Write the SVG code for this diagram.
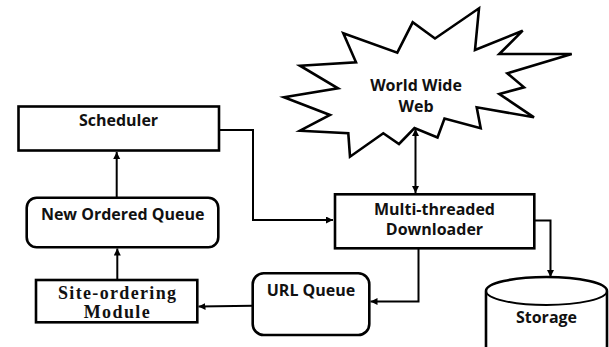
<svg xmlns="http://www.w3.org/2000/svg" width="609" height="347" viewBox="0 0 609 347">
  <style>
    .box { fill: #ffffff; stroke: #000000; stroke-width: 2.6; }
    .lbl { font-family: "Open Sans", "Liberation Sans", sans-serif; font-weight: 700; font-size: 16px; fill: #111111; text-anchor: middle; }
    .serif { font-family: "Liberation Serif", "Times New Roman", serif; font-weight: 700; font-size: 18px; fill: #111111; text-anchor: middle; }
    .wire { fill: none; stroke: #000000; stroke-width: 2; }
  </style>
  <defs>
    <marker id="arrow" markerUnits="userSpaceOnUse" markerWidth="8" markerHeight="8" refX="7" refY="3.5" orient="auto">
      <path d="M0,0 L7,3.5 L0,7 Z" fill="#000000"/>
    </marker>
    <marker id="arrowStart" markerUnits="userSpaceOnUse" markerWidth="8" markerHeight="8" refX="0" refY="3.5" orient="auto">
      <path d="M7,0 L0,3.5 L7,7 Z" fill="#000000"/>
    </marker>
  </defs>
  <rect width="609" height="347" fill="#ffffff"/>

  <g id="connectors">
    <path class="wire" d="M219,130 H253 V220 H333" marker-end="url(#arrow)"/>
    <path class="wire" d="M415.5,129 V193" marker-start="url(#arrowStart)" marker-end="url(#arrow)"/>
    <path class="wire" d="M534.5,220.5 H550.5 V277" marker-end="url(#arrow)"/>
    <path class="wire" d="M418.5,248 V301.5 H370.5" marker-end="url(#arrow)"/>
    <path class="wire" d="M253,305.7 L198.5,306.5" marker-end="url(#arrow)"/>
    <path class="wire" d="M117.3,280 V248.5" marker-end="url(#arrow)"/>
    <path class="wire" d="M116.7,197.7 V152" marker-end="url(#arrow)"/>
  </g>

  <g id="www">
    <polygon class="box" points="284,97.3 338,88.3 300,65.7 356,62.3 343.3,33.3 397.3,52.7 412.7,22.3 435,38.5 479,8.3 475,50 522.7,30.7 499.3,54 571.7,54 507.3,73.3 524,87.3 499.3,94 534,117.3 476.7,107.3 480.7,128.3 444.5,118.5 437.5,137.5 414.5,128 399,144 383.3,133.3 350,156.7 348.3,133.3 300,130.7 330,115"/>
    <text class="lbl" x="416" y="91">World Wide</text>
    <text class="lbl" x="416" y="112">Web</text>
  </g>

  <g id="scheduler">
    <rect class="box" x="18.5" y="106.5" width="200.5" height="44"/>
    <text class="lbl" x="118.5" y="126">Scheduler</text>
  </g>

  <g id="new-ordered-queue">
    <rect class="box" x="26.7" y="197.7" width="191.6" height="49.6" rx="10"/>
    <text class="lbl" x="122.7" y="220">New Ordered Queue</text>
  </g>

  <g id="site-ordering-module">
    <rect class="box" x="36" y="280" width="161.3" height="42.3"/>
    <text class="serif" x="117" y="299" textLength="118" lengthAdjust="spacing">Site-ordering</text>
    <text class="serif" x="116.7" y="318" textLength="66" lengthAdjust="spacing">Module</text>
  </g>

  <g id="url-queue">
    <rect class="box" x="252.7" y="273.3" width="116.6" height="61.7" rx="11"/>
    <text class="lbl" x="311" y="296">URL Queue</text>
  </g>

  <g id="downloader">
    <rect class="box" x="335" y="194.3" width="199.3" height="54"/>
    <text class="lbl" x="434.5" y="215">Multi-threaded</text>
    <text class="lbl" x="434.5" y="235">Downloader</text>
  </g>

  <g id="storage">
    <path class="box" d="M486,291 A60.5,14 0 0 1 607,291 V360 H486 Z"/>
    <path class="wire" d="M486,291 A60.5,14 0 0 0 607,291" stroke-width="2.6"/>
    <text class="lbl" x="546.5" y="322.5">Storage</text>
  </g>
</svg>
